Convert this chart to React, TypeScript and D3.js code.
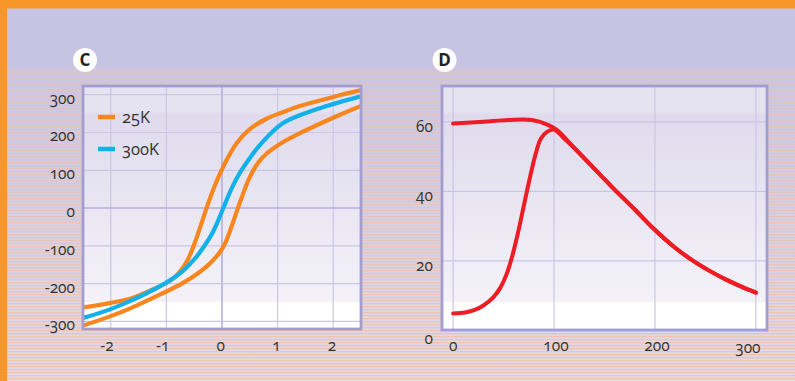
import React from "react";
import * as d3 from "d3";

// ---------- Panel C data (field vs moment) ----------
const cTicksX = [-2, -1, 0, 1, 2];
const cTicksY = [-300, -200, -100, 0, 100, 200, 300];

const c25UpX = [-2.5, -2.0, -1.6, -1.3, -1.01, -0.85, -0.7, -0.6, -0.47, -0.35, -0.25, -0.15, -0.04, 0.1, 0.27, 0.5, 0.81, 1.1, 1.4, 2.0, 2.5];
const c25UpY = [-263, -251, -237, -219, -199, -183, -157, -132, -84, -32, 12, 52, 90, 132, 173, 209, 237, 254, 270, 294, 312];

const c25LoX = [-2.5, -2.0, -1.6, -1.1, -0.7, -0.4, -0.25, -0.11, -0.03, 0.05, 0.14, 0.23, 0.32, 0.42, 0.5, 0.65, 0.81, 1.1, 1.4, 2.0, 2.5];
const c25LoY = [-311, -286, -262, -228, -198, -169, -151, -130, -115, -95, -62, -24, 14, 54, 82, 120, 145, 175, 198, 239, 270];

const c300X = [-2.5, -1.91, -1.01, -0.7, -0.5, -0.33, -0.18, -0.06, 0.06, 0.18, 0.32, 0.48, 0.7, 1.1, 1.71, 2.5];
const c300Y = [-291, -262, -198, -166, -136, -103, -68, -30, 13, 54, 93, 128, 170, 225, 262, 296];

const legendLabels = ["25K", "300K"];

// ---------- Panel D data (temperature vs moment) ----------
const dTicksX = [0, 100, 200, 300];
const dTicksY = [20, 40, 60];

const dFcT = [0, 30, 55, 78, 95, 103, 121, 146, 158, 180, 199, 220, 239, 255, 270, 285, 300];
const dFcM = [59.5, 60, 60.5, 60.5, 59, 57.6, 52.2, 44.7, 41.1, 34.8, 29.2, 23.8, 19.8, 17.0, 14.7, 12.7, 10.9];

const dZfcT = [0, 12, 22, 30, 40, 47, 53, 59, 65, 70, 75, 82, 87, 93, 100, 110, 121, 146, 158, 180, 199, 220, 239, 255, 270, 285, 300];
const dZfcM = [4.9, 5.2, 6.0, 7.2, 9.6, 12.4, 16.2, 21.8, 29.0, 35.8, 42.5, 51, 55.2, 57.1, 57.8, 55.2, 52.2, 44.7, 41.1, 34.8, 29.2, 23.8, 19.8, 17.0, 14.7, 12.7, 10.9];

const ORANGE = "#f7861f";
const BLUE = "#13b1e9";
const RED = "#ee1c25";
const FRAME = "#a39dd0";
const GRID = "#cbc6e6";
const TEXT = "#333333";
const FONT = "'Open Sans', 'DejaVu Sans', sans-serif";

const zip = (xs: number[], ys: number[]) => xs.map((x, i) => [x, ys[i]] as [number, number]);

export default function App() {
  // Panel C scales
  const cx = d3.scaleLinear().domain([-2.5, 2.5]).range([83, 361]);
  const cy = d3.scaleLinear().domain([-320, 323]).range([329, 86]);
  // Panel D scales
  const dx = d3.scaleLinear().domain([-11, 311]).range([442, 767]);
  const dy = d3.scaleLinear().domain([0, 70.3]).range([330.5, 86]);

  const cLine = d3
    .line<[number, number]>()
    .x((d) => cx(d[0]))
    .y((d) => cy(d[1]))
    .curve(d3.curveCatmullRom.alpha(0.5));
  const dLine = d3
    .line<[number, number]>()
    .x((d) => dx(d[0]))
    .y((d) => dy(d[1]))
    .curve(d3.curveCatmullRom.alpha(0.5));

  const numStyle: React.CSSProperties = {
    fontVariantNumeric: "oldstyle-nums",
    fontFeatureSettings: '"onum"',
  };

  const cBox = { x: 83, y: 86, w: 278, h: 243 };
  const dBox = { x: 442, y: 86, w: 325, h: 244 };

  return (
    <svg
      width={795}
      height={381}
      style={{ position: "absolute", left: 0, top: 0, display: "block" }}
      fontFamily={FONT}
    >
      <defs>
        <pattern id="stripes" patternUnits="userSpaceOnUse" width={795} height={3}>
          <rect x={0} y={0} width={795} height={1.3} fill="#f5bc94" />
        </pattern>
        <linearGradient id="stripeFade" x1="0" y1="0" x2="0" y2="1">
          <stop offset="0" stopColor="#fff" stopOpacity={0.3} />
          <stop offset="1" stopColor="#fff" stopOpacity={0.75} />
        </linearGradient>
        <mask id="stripeMask" maskUnits="userSpaceOnUse" x={0} y={68} width={795} height={313}>
          <rect x={0} y={68} width={795} height={313} fill="url(#stripeFade)" />
        </mask>
        <linearGradient id="bgBase" x1="0" y1="0" x2="0" y2="1">
          <stop offset="0" stopColor="#cbc6e3" />
          <stop offset="1" stopColor="#e2dae9" />
        </linearGradient>
        <linearGradient id="plotFill" gradientUnits="userSpaceOnUse" x1="0" y1="86" x2="0" y2="331">
          <stop offset="0" stopColor="#e6e3f1" />
          <stop offset="0.1" stopColor="#e6e3f1" />
          <stop offset="0.12" stopColor="#dfdbed" />
          <stop offset="0.88" stopColor="#f4f2f8" />
          <stop offset="0.885" stopColor="#ffffff" />
          <stop offset="1" stopColor="#ffffff" />
        </linearGradient>
        <clipPath id="clipC">
          <rect x={cBox.x} y={cBox.y} width={cBox.w} height={cBox.h} />
        </clipPath>
        <clipPath id="clipD">
          <rect x={dBox.x} y={dBox.y} width={dBox.w} height={dBox.h} />
        </clipPath>
      </defs>

      {/* background */}
      <rect x={0} y={0} width={795} height={381} fill="#c7c4e3" />
      <rect x={0} y={68} width={795} height={313} fill="url(#bgBase)" />
      <rect x={0} y={68} width={795} height={313} fill="url(#stripes)" mask="url(#stripeMask)" />
      <rect x={0} y={0} width={795} height={8.5} fill="#f8962a" />
      <rect x={0} y={0} width={7} height={381} fill="#f8962a" />

      {/* ---------- Panel C ---------- */}
      <rect x={cBox.x} y={cBox.y} width={cBox.w} height={cBox.h} fill="url(#plotFill)" />
      <g clipPath="url(#clipC)">
        {cTicksX.map((t) => (
          <line key={"cgx" + t} x1={cx(t)} x2={cx(t)} y1={cBox.y} y2={cBox.y + cBox.h}
            stroke={t === 0 ? "#b4aedb" : GRID} strokeWidth={t === 0 ? 1.6 : 1.2} />
        ))}
        {cTicksY.map((t) => (
          <line key={"cgy" + t} x1={cBox.x} x2={cBox.x + cBox.w} y1={cy(t)} y2={cy(t)}
            stroke={t === 0 ? "#b4aedb" : GRID} strokeWidth={t === 0 ? 1.6 : 1.2} />
        ))}
        <path d={cLine(zip(c25UpX, c25UpY)) || ""} fill="none" stroke={ORANGE} strokeWidth={4.2} strokeLinecap="round" />
        <path d={cLine(zip(c25LoX, c25LoY)) || ""} fill="none" stroke={ORANGE} strokeWidth={4.2} strokeLinecap="round" />
        <path d={cLine(zip(c300X, c300Y)) || ""} fill="none" stroke={BLUE} strokeWidth={4.2} strokeLinecap="round" />
      </g>
      <rect x={cBox.x} y={cBox.y} width={cBox.w} height={cBox.h} fill="none" stroke={FRAME} strokeWidth={2.8} />

      {/* legend C */}
      {legendLabels.map((lab, i) => (
        <g key={lab} transform={`translate(98, ${117 + i * 32})`}>
          <line x1={0} x2={17} y1={0} y2={0} stroke={i === 0 ? ORANGE : BLUE} strokeWidth={4.5} />
          <text x={24} y={5.5} fontSize={16.5} fill={TEXT} style={numStyle}>{lab}</text>
        </g>
      ))}

      {/* C tick labels */}
      {cTicksY.map((t) => (
        <text key={"cly" + t} x={75} y={cy(t) + 9} textAnchor="end" fontSize={15.5} fill={TEXT} style={numStyle}>
          {t < 0 ? "-" + Math.abs(t) : String(t)}
        </text>
      ))}
      {cTicksX.map((t) => (
        <text key={"clx" + t} x={cx(t) + 3} y={351} textAnchor="end" fontSize={15.5} fill={TEXT} style={numStyle}>
          {t < 0 ? "-" + Math.abs(t) : String(t)}
        </text>
      ))}

      {/* ---------- Panel D ---------- */}
      <rect x={dBox.x} y={dBox.y} width={dBox.w} height={dBox.h} fill="url(#plotFill)" />
      <g clipPath="url(#clipD)">
        {dTicksX.map((t) => (
          <line key={"dgx" + t} x1={dx(t)} x2={dx(t)} y1={dBox.y} y2={dBox.y + dBox.h} stroke={GRID} strokeWidth={1.2} />
        ))}
        {dTicksY.map((t) => (
          <line key={"dgy" + t} x1={dBox.x} x2={dBox.x + dBox.w} y1={dy(t)} y2={dy(t)} stroke={GRID} strokeWidth={1.2} />
        ))}
        <path d={dLine(zip(dFcT, dFcM)) || ""} fill="none" stroke={RED} strokeWidth={4} strokeLinecap="round" />
        <path d={dLine(zip(dZfcT, dZfcM)) || ""} fill="none" stroke={RED} strokeWidth={4} strokeLinecap="round" />
      </g>
      <rect x={dBox.x} y={dBox.y} width={dBox.w} height={dBox.h} fill="none" stroke={FRAME} strokeWidth={2.8} />

      {/* D tick labels */}
      {[0, ...dTicksY].map((t) => (
        <text key={"dly" + t} x={433} y={dy(t) + (t === 0 ? 13 : 10)} textAnchor="end" fontSize={15.5} fill={TEXT} style={numStyle}>
          {String(t)}
        </text>
      ))}
      {dTicksX.map((t) => (
        <text key={"dlx" + t} x={dx(t) + (t === 300 ? -8 : t === 0 ? 0 : 2)} y={t === 300 ? 353 : 351} textAnchor="middle" fontSize={15.5} fill={TEXT} style={numStyle}>
          {String(t)}
        </text>
      ))}

      {/* panel badges */}
      {[
        { l: "C", x: 85, y: 60 },
        { l: "D", x: 444.5, y: 60 },
      ].map((b) => (
        <g key={b.l}>
          <circle cx={b.x} cy={b.y} r={12} fill="#ffffff" />
          <text x={b.x} y={b.y + 6} textAnchor="middle" fontSize={17} fontWeight={700} fill="#222">
            {b.l}
          </text>
        </g>
      ))}
    </svg>
  );
}
